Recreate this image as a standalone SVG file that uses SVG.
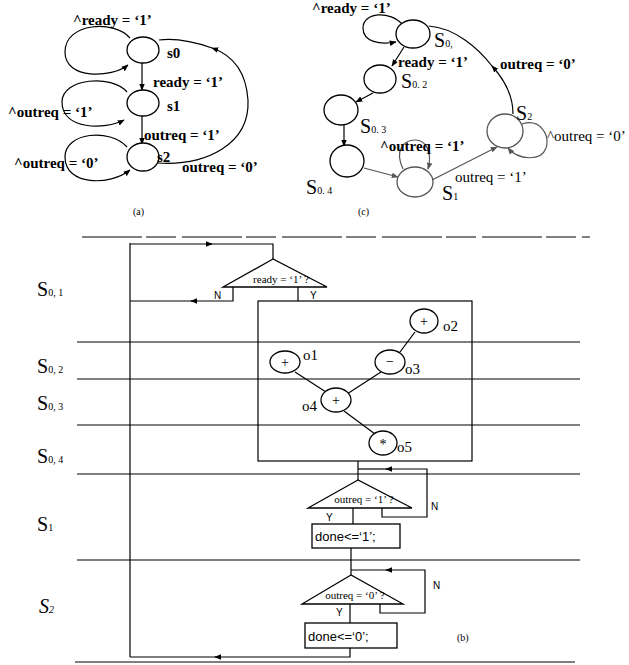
<svg xmlns="http://www.w3.org/2000/svg" width="629" height="665" viewBox="0 0 629 665">
<defs>
<marker id="ah" viewBox="0 0 10 10" refX="9" refY="5" markerWidth="7" markerHeight="7" orient="auto" markerUnits="userSpaceOnUse"><path d="M0,1 L10,5 L0,9 Z" fill="#000"/></marker>
<marker id="ahg" viewBox="0 0 10 10" refX="9" refY="5" markerWidth="7" markerHeight="7" orient="auto" markerUnits="userSpaceOnUse"><path d="M0,1 L10,5 L0,9 Z" fill="#555"/></marker>
</defs>
<style>
.st{fill:#fff;stroke:#000;stroke-width:1.3}
.stg{fill:#fff;stroke:#555;stroke-width:1.3}
.ln{fill:none;stroke:#000;stroke-width:1.2}
.lng{fill:none;stroke:#555;stroke-width:1.2}
.sep{fill:none;stroke:#000;stroke-width:1}
.ta{font-family:"Liberation Serif",serif;font-size:15px;font-weight:bold;fill:#000}
.tc{font-family:"Liberation Serif",serif;font-size:15px;fill:#000}
.tcb{font-family:"Liberation Serif",serif;font-size:15px;font-weight:bold;fill:#000}
.sn{font-family:"Liberation Serif",serif;font-size:20px;fill:#000}
.sub{font-size:10px}
.cap{font-family:"Liberation Serif",serif;font-size:10px;fill:#000}
.tri{font-family:"Liberation Serif",serif;font-size:11px;fill:#000}
.yn{font-family:"Liberation Sans",sans-serif;font-size:10px;fill:#000}
.op{font-family:"Liberation Serif",serif;font-size:14px;fill:#000}
.ol{font-family:"Liberation Serif",serif;font-size:15px;fill:#000}
.dn{font-family:"Liberation Sans",sans-serif;font-size:13px;fill:#000}
</style>
<rect width="629" height="665" fill="#fff"/>

<!-- ===== (a) ===== -->
<g id="a-connectors">
<path class="ln" d="M130,38 C115,20 65,22 65,52 C65,80 112,78 128,65" marker-end="url(#ah)"/>
<path class="ln" d="M127,92 C112,74 62,78 62,102 C62,130 105,130 124,120" marker-end="url(#ah)"/>
<path class="ln" d="M127,147 C110,128 65,132 65,157 C65,186 110,186 130,170" marker-end="url(#ah)"/>
<path class="ln" d="M142,63 L142,90" marker-end="url(#ah)"/>
<path class="ln" d="M142,116 L142,144" marker-end="url(#ah)"/>
<path class="ln" d="M158,163 C205,166 250,145 248,100 C246,70 232,55 212,48" marker-end="url(#ah)"/>
<path class="ln" d="M212,48 C195,42 175,38 159,40"/>
</g>
<g id="a-s0"><ellipse class="st" cx="143" cy="50" rx="16" ry="13"/><text class="ta" x="167" y="58">s0</text></g>
<g id="a-s1"><ellipse class="st" cx="143" cy="103" rx="16" ry="13"/><text class="ta" x="167" y="111">s1</text></g>
<g id="a-s2"><ellipse class="st" cx="143" cy="157" rx="16" ry="14"/><text class="ta" x="157" y="162">s2</text></g>
<g id="a-labels">
<text class="ta" x="73" y="25">^ready = ‘1’</text>
<text class="ta" x="153" y="87">ready = ‘1’</text>
<text class="ta" x="8" y="117">^outreq = ‘1’</text>
<text class="ta" x="144" y="140">outreq = ‘1’</text>
<text class="ta" x="14" y="168">^outreq = ‘0’</text>
<text class="ta" x="182" y="172">outreq = ‘0’</text>
<text class="cap" x="133" y="215">(a)</text>
</g>

<!-- ===== (c) ===== -->
<g id="c-connectors">
<path class="ln" d="M403,25 C390,10 363,12 363,28 C363,42 380,45 396,42" marker-end="url(#ah)"/>
<path class="ln" d="M404,47 L392,66" marker-end="url(#ah)"/>
<path class="ln" d="M373,93 L356,102" marker-end="url(#ah)"/>
<path class="ln" d="M344,125 L344,146" marker-end="url(#ah)"/>
<path class="lng" d="M364,168 L398,177" marker-end="url(#ahg)"/>
<path class="lng" d="M403,169 C394,150 404,140 415,140 C428,140 432,155 428,169" marker-end="url(#ahg)"/>
<path class="lng" d="M432,180 L497,147" marker-end="url(#ahg)"/>
<path class="lng" d="M522,124 C540,118 550,135 546,148 C541,162 518,160 508,148" marker-end="url(#ahg)"/>
<path class="ln" d="M513,114 C513,95 503,78 492,66" marker-end="url(#ah)"/>
<path class="ln" d="M492,66 C478,48 455,28 429,26"/>
</g>
<g id="c-s01"><ellipse class="st" cx="413" cy="34" rx="17" ry="14"/><text class="sn" x="434" y="47">S<tspan class="sub">0,</tspan></text></g>
<g id="c-s02"><ellipse class="st" cx="380" cy="79" rx="16" ry="14"/><text class="sn" x="401" y="88">S<tspan class="sub">0. 2</tspan></text></g>
<g id="c-s03"><ellipse class="st" cx="341" cy="110" rx="17" ry="15"/><text class="sn" x="360" y="133">S<tspan class="sub">0. 3</tspan></text></g>
<g id="c-s04"><ellipse class="st" cx="347" cy="161" rx="17" ry="16"/><text class="sn" x="306" y="194">S<tspan class="sub">0. 4</tspan></text></g>
<g id="c-s1"><ellipse class="stg" cx="415" cy="182" rx="18" ry="15"/><text class="sn" x="442" y="200" fill="#333">S<tspan class="sub">1</tspan></text></g>
<g id="c-s2"><ellipse class="stg" cx="505" cy="131" rx="18" ry="17"/><text class="sn" x="516" y="120">S<tspan class="sub">2</tspan></text></g>
<g id="c-labels">
<text class="tcb" x="312" y="13">^ready = ‘1’</text>
<text class="tcb" x="398" y="67">ready = ‘1’</text>
<text class="tcb" x="500" y="69">outreq = ‘0’</text>
<text class="tcb" x="380" y="151">^outreq = ‘1’</text>
<text class="tc" x="455" y="182" fill="#333">outreq = ‘1’</text>
<text class="tc" x="547" y="141">^outreq = ‘0’</text>
<text class="cap" x="358" y="215">(c)</text>
</g>

<!-- ===== (b) ===== -->
<g id="b-lanes">
<path class="sep" d="M82,237 L590,237" stroke-dasharray="60,4,30,6"/>
<path class="sep" d="M77,342 L580,342"/>
<path class="sep" d="M77,379 L580,379"/>
<path class="sep" d="M77,425 L580,425"/>
<path class="sep" d="M77,474 L580,474"/>
<path class="sep" d="M77,560 L580,560"/>
<path class="sep" d="M75,662 L575,662"/>
<text class="sn" x="37" y="296">S<tspan class="sub">0, 1</tspan></text>
<text class="sn" x="37" y="373">S<tspan class="sub">0, 2</tspan></text>
<text class="sn" x="37" y="410">S<tspan class="sub">0, 3</tspan></text>
<text class="sn" x="37" y="463">S<tspan class="sub">0, 4</tspan></text>
<text class="sn" x="37" y="531">S<tspan class="sub">1</tspan></text>
<text class="sn" x="39" y="613" font-style="italic">S<tspan class="sub">2</tspan></text>
</g>
<g id="b-connectors">
<path class="ln" d="M130,243 L130,657" stroke-width="2"/>
<path class="ln" d="M130,244 L212,244" marker-end="url(#ah)"/>
<path class="ln" d="M210,244 L273,244 L273,259"/>
<path class="ln" d="M233,287 L233,301 L191,301" marker-end="url(#ah)"/>
<path class="ln" d="M193,301 L130,301"/>
<path class="ln" d="M298,287 L298,301"/>
<path class="ln" d="M358,461 L358,480"/>
<path class="ln" d="M382,508 L382,517 L427,517 L427,469 L386,469" marker-end="url(#ah)"/>
<path class="ln" d="M388,469 L358,469"/>
<path class="ln" d="M353,508 L353,524"/>
<path class="ln" d="M351,548 L351,575"/>
<path class="ln" d="M380,604 L380,613 L425,613 L425,570 L386,570" marker-end="url(#ah)"/>
<path class="ln" d="M388,570 L351,570"/>
<path class="ln" d="M350,604 L350,623"/>
<path class="ln" d="M350,648 L350,657 L215,657" marker-end="url(#ah)"/>
<path class="ln" d="M217,657 L130,657"/>
<path class="ln" d="M295,372 L326,392"/>
<path class="ln" d="M415,332 L400,352"/>
<path class="ln" d="M381,372 L347,394"/>
<path class="ln" d="M344,411 L375,434"/>
</g>
<g id="b-dec1">
<polygon class="st" points="273,259 223,287 327,287"/>
<text class="tri" x="281" y="283" text-anchor="middle">ready = ‘1’ ?</text>
<text class="yn" x="214" y="299">N</text>
<text class="yn" x="310" y="299">Y</text>
</g>
<g id="b-box"><rect class="ln" x="258" y="301" width="214" height="160"/></g>
<g id="b-o1"><ellipse class="st" cx="285" cy="362" rx="15" ry="11"/><text class="op" x="285" y="367" text-anchor="middle">+</text><text class="ol" x="303" y="360">o1</text></g>
<g id="b-o2"><ellipse class="st" cx="424" cy="321" rx="14" ry="12"/><text class="op" x="424" y="326" text-anchor="middle">+</text><text class="ol" x="443" y="331">o2</text></g>
<g id="b-o3"><ellipse class="st" cx="390" cy="362" rx="15" ry="12"/><text class="op" x="390" y="366" text-anchor="middle">−</text><text class="ol" x="405" y="374">o3</text></g>
<g id="b-o4"><ellipse class="st" cx="336" cy="400" rx="15" ry="12"/><text class="op" x="336" y="405" text-anchor="middle">+</text><text class="ol" x="302" y="411">o4</text></g>
<g id="b-o5"><ellipse class="st" cx="383" cy="443" rx="14" ry="12"/><text class="op" x="383" y="449" text-anchor="middle">*</text><text class="ol" x="397" y="452">o5</text></g>
<g id="b-dec2">
<polygon class="st" points="358,480 308,508 412,508"/>
<text class="tri" x="364" y="503" text-anchor="middle">outreq = ‘1’ ?</text>
<text class="yn" x="326" y="521">Y</text>
<text class="yn" x="431" y="510">N</text>
</g>
<g id="b-done1"><rect class="st" x="312" y="524" width="88" height="24"/><text class="dn" x="315" y="541">done&lt;=‘1’;</text></g>
<g id="b-dec3">
<polygon class="st" points="351,575 302,604 403,604"/>
<text class="tri" x="355" y="599" text-anchor="middle">outreq = ‘0’ ?</text>
<text class="yn" x="336" y="616">Y</text>
<text class="yn" x="433" y="589">N</text>
</g>
<g id="b-done2"><rect class="st" x="305" y="623" width="92" height="25"/><text class="dn" x="308" y="641">done&lt;=‘0’;</text></g>
<text class="cap" x="457" y="641">(b)</text>
</svg>
